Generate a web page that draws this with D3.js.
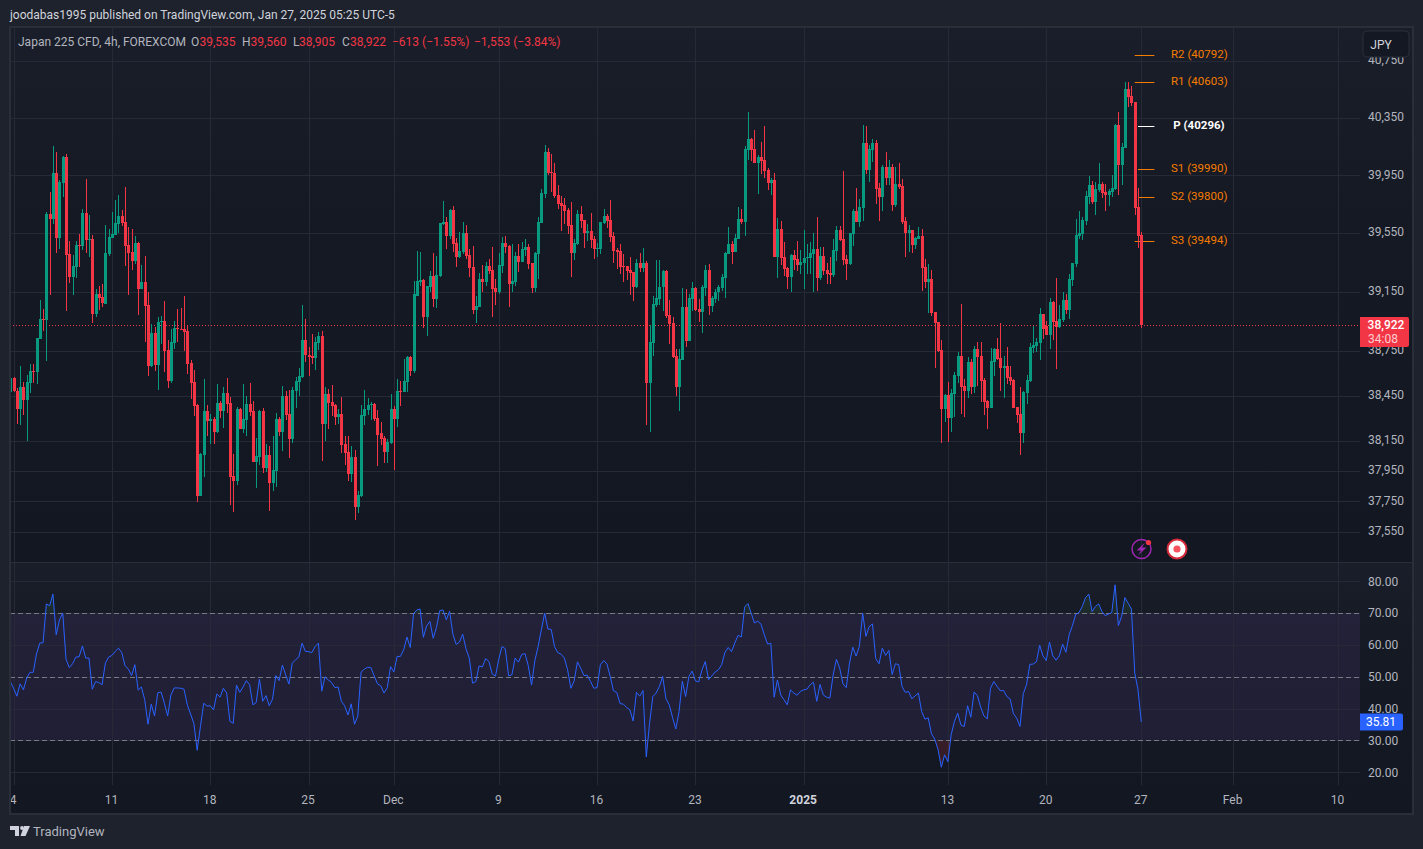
<!DOCTYPE html>
<html>
<head>
<meta charset="utf-8">
<title>Japan 225 CFD</title>
<script src="https://cdn.jsdelivr.net/npm/d3@7"></script>
<style>
	html,body{margin:0;padding:0;background:#1e222d;overflow:hidden;}
	svg{display:block;font-family:Roboto,sans-serif;}
</style>
</head>
<body>
<svg id="chart" width="1423" height="849"></svg>
<script>
// 4h bars
var opens=[38476,38565,38484,38361,38507,38422,38534,38612,38610,38832,
38962,38957,39682,39648,39965,39519,39899,40076,39406,39248,
39317,39468,39464,39689,39505,39510,38998,39132,39112,39065,
39406,39517,39538,39613,39669,39627,39468,39420,39358,39482,
39165,39213,39058,38648,38870,38655,38944,38950,38756,38547,
38803,38903,38897,38897,38883,38668,38541,38386,37788,38057,
38346,38278,38292,38211,38399,38346,38467,38399,37916,37882,
38359,38225,38285,38393,38346,38010,38043,38346,37969,38057,
37869,37949,38292,38205,38446,38326,38164,38480,38541,38574,
38823,38722,38715,38702,38803,38850,38258,38460,38406,38386,
38305,38326,38131,38077,37929,38043,37714,37788,38312,38352,
38386,38393,38299,38198,38171,38077,38137,38359,38292,38480,
38473,38541,38709,38614,39123,39213,39227,38977,39179,39255,
39098,39255,39613,39627,39531,39710,39482,39386,39420,39551,
39400,39317,39024,39045,39234,39213,39324,39296,39172,39145,
39324,39482,39462,39200,39213,39393,39351,39434,39455,39344,
39172,39406,39620,39820,40110,39972,39965,39813,39758,39745,
39710,39607,39413,39475,39682,39641,39551,39565,39510,39441,
39441,39620,39669,39641,39531,39434,39427,39324,39324,39296,
39282,39179,39344,39310,39344,38534,38803,39058,39099,39179,
39289,38991,38937,38716,38507,38689,39045,38816,39099,39172,
39032,39011,39172,39296,39052,39099,39146,39172,39241,39406,
39475,39420,39510,39648,39627,40124,40200,40131,40034,40076,
40055,39986,39896,39917,39386,39579,39386,39310,39248,39399,
39372,39330,39344,39379,39379,39406,39441,39241,39393,39296,
39275,39261,39427,39572,39510,39372,39337,39544,39703,39627,
39724,40172,39986,40124,40172,39862,39800,40007,39931,40007,
39745,39889,39876,39634,39551,39572,39468,39510,39531,39317,
39213,39234,39011,38944,38755,38359,38453,38298,38460,38581,
38715,38513,38480,38675,38507,38762,38715,38554,38413,38366,
38675,38762,38702,38634,38648,38574,38554,38372,38325,38198,
38466,38547,38769,38782,38802,38997,38917,38856,39078,38950,
38910,38957,39091,39024,39227,39338,39531,39544,39634,39800,
39883,39765,39848,39889,39834,39814,39834,39855,40303,40020,
40138,40552,40503,40462,39731,39535];
var highs=[38614,38572,38502,38648,38541,38588,38661,38661,38836,39092,
39031,39696,39834,40152,40110,39917,40083,40096,39496,39400,
39496,39544,39717,39924,39676,39538,39165,39192,39199,39607,
39579,39696,39779,39814,39710,39869,39593,39579,39531,39489,
39330,39393,39151,38930,38910,38977,38984,39085,38823,38897,
38950,39031,39038,39118,38924,38688,38621,38393,38070,38561,
38386,38326,38305,38527,38413,38507,38567,38440,38063,38373,
38366,38527,38446,38534,38413,38171,38352,38366,38131,38117,
38178,38332,38305,38514,38480,38487,38507,38574,38635,39058,
38964,38776,38863,38843,38877,38883,38507,38494,38520,38393,
38359,38440,38178,38178,38117,38090,37815,38386,38487,38433,
38406,38399,38352,38272,38178,38158,38460,38379,38561,38547,
38695,38715,38715,39220,39427,39420,39234,39192,39289,39413,
39393,39620,39772,39662,39717,39738,39517,39558,39627,39607,
39441,39462,39118,39275,39330,39351,39372,39455,39234,39413,
39524,39531,39468,39475,39420,39475,39489,39510,39475,39344,
39420,39662,39855,40158,40138,40096,40034,39883,39807,39793,
39724,39765,39510,39710,39738,39641,39613,39689,39531,39482,
39627,39717,39682,39779,39558,39448,39475,39406,39324,39386,
39282,39372,39413,39448,39358,38924,39119,39365,39365,39296,
39296,39092,38978,38763,38763,39172,39165,39132,39213,39179,
39099,39193,39331,39337,39119,39165,39193,39268,39420,39593,
39496,39544,39731,39717,40152,40393,40207,40262,40090,40179,
40290,40000,39931,39965,39655,39634,39489,39317,39406,39434,
39496,39434,39572,39475,39489,39551,39662,39455,39455,39344,
39386,39510,39600,39600,39979,39399,39551,39717,39862,39786,
40303,40296,40158,40200,40193,39896,40021,40110,40055,40027,
40007,40034,39924,39662,39607,39572,39524,39593,39579,39372,
39338,39296,39011,38944,38823,38460,38540,38493,38608,38742,
39065,38560,38708,38695,38782,38809,38809,38567,38419,38769,
38769,38836,38937,38715,38776,38648,38560,38372,38507,38480,
38587,38802,38917,38836,39038,38997,38950,39105,39085,39241,
39058,39145,39132,39268,39344,39648,39703,39662,39841,39945,
39910,39903,40034,39903,39889,39855,39952,40310,40393,40172,
40600,40600,40572,40462,39862,39560];
var lows=[38413,38476,38261,38252,38319,38151,38469,38534,38527,38830,
38883,38684,39127,39613,39413,39441,39800,39018,39206,39125,
39241,39317,39434,39413,39386,38937,38977,39024,39045,39065,
39393,39517,39538,39551,39600,39324,39125,39296,39337,38991,
39165,38809,38581,38641,38614,38487,38796,38608,38500,38534,
38762,38809,38890,38749,38594,38426,38312,37748,37788,37909,
38184,38131,38131,38198,38299,38231,38332,37727,37680,37855,
38225,38198,38184,38312,38010,37835,37990,37936,37943,37687,
37815,37842,38178,38084,38285,38037,38137,38366,38446,38567,
38675,38581,38661,38621,38756,38016,38151,38225,38312,38252,
38258,38070,37990,37882,37875,37627,37674,37781,38252,38319,
38285,38278,37983,38124,38003,38003,38131,37956,38238,38379,
38473,38473,38581,38601,39118,39192,38903,38850,39151,39045,
39038,39248,39607,39441,39510,39420,39317,39379,39406,39372,
39248,38998,38937,39045,39145,39186,39268,38977,39058,39132,
39275,39413,39045,39151,39192,39282,39351,39393,39303,39139,
39151,39234,39620,39793,39952,39834,39793,39717,39565,39613,
39544,39248,39365,39468,39586,39448,39496,39448,39372,39386,
39406,39613,39586,39489,39344,39303,39268,39213,39227,39126,
39085,39172,39282,39282,38252,38205,38716,39045,39058,39018,
38971,38796,38702,38447,38346,38689,38776,38816,39018,39018,
38944,38870,39119,38991,39011,39072,39085,39158,39105,39406,
39337,39420,39510,39613,39531,40055,40048,40034,39820,39958,
39931,39848,39813,39386,39241,39330,39255,39165,39151,39296,
39289,39268,39165,39268,39268,39151,39158,39227,39261,39199,
39199,39248,39358,39496,39330,39227,39330,39462,39627,39593,
39634,39958,39903,40041,39751,39634,39703,39883,39883,39703,
39731,39855,39613,39386,39420,39413,39441,39510,39158,39172,
39004,38984,38634,38742,38137,38272,38144,38211,38305,38534,
38325,38305,38433,38460,38466,38513,38406,38319,38225,38366,
38581,38688,38480,38433,38527,38520,38366,38265,38057,38137,
38393,38540,38735,38742,38688,38829,38856,38762,38823,38628,
38903,38944,38997,38964,39186,39317,39510,39503,39606,39751,
39751,39676,39834,39793,39703,39738,39800,39848,39814,39883,
40138,40428,40434,39676,39448,38905];
var closes=[38565,38480,38361,38507,38422,38541,38612,38608,38834,38962,
38957,39682,39648,39965,39519,39903,40076,39400,39248,39324,
39468,39464,39689,39505,39510,38998,39132,39110,39071,39413,
39524,39544,39620,39669,39623,39462,39413,39358,39482,39165,
39213,39051,38648,38870,38655,38944,38950,38749,38547,38809,
38903,38897,38892,38877,38661,38534,38379,37788,38063,38346,
38278,38292,38211,38399,38346,38467,38393,37909,37882,38359,
38225,38292,38393,38339,38010,38050,38346,37969,38057,37869,
37956,38292,38205,38446,38319,38164,38487,38547,38581,38823,
38722,38709,38702,38809,38850,38258,38460,38399,38379,38305,
38326,38124,38070,37929,38043,37714,37795,38319,38359,38386,
38393,38292,38191,38164,38077,38144,38359,38292,38480,38473,
38547,38709,38614,39132,39220,39227,38977,39186,39255,39098,
39262,39620,39627,39531,39710,39475,39386,39427,39551,39393,
39310,39024,39051,39234,39213,39324,39289,39165,39145,39330,
39482,39455,39200,39220,39393,39351,39441,39455,39337,39172,
39413,39627,39827,40110,39965,39965,39807,39751,39738,39703,
39600,39413,39482,39682,39634,39551,39565,39503,39441,39448,
39627,39669,39634,39524,39427,39420,39317,39317,39289,39275,
39179,39344,39310,39344,38534,38810,39065,39105,39185,39289,
38984,38931,38709,38507,38696,39045,38816,39105,39172,39025,
39011,39179,39296,39052,39105,39151,39179,39248,39413,39475,
39420,39517,39648,39627,40131,40200,40124,40034,40076,40048,
39979,39896,39917,39386,39579,39379,39303,39248,39399,39365,
39330,39351,39379,39386,39413,39441,39241,39393,39289,39268,
39261,39434,39572,39503,39365,39337,39551,39703,39627,39731,
40172,39986,40131,40172,39855,39800,40007,39931,40007,39745,
39889,39869,39627,39551,39572,39468,39517,39531,39310,39213,
39234,39004,38937,38749,38359,38453,38298,38466,38587,38715,
38507,38480,38675,38507,38762,38708,38547,38406,38366,38681,
38762,38695,38634,38648,38567,38547,38366,38319,38198,38473,
38554,38776,38789,38809,38997,38896,38856,39078,38944,38910,
38964,39091,39024,39234,39344,39538,39551,39641,39807,39883,
39765,39855,39889,39827,39814,39841,39862,40303,40020,40145,
40552,40497,40455,39724,39531,38922];

var rsiValues=[48.5,46.4,43.9,47.8,45.9,49.6,51.4,51.4,57.2,60.6,
60.7,72.9,72.3,76.0,63.2,67.9,70.0,55.5,52.9,54.1,
56.2,56.3,59.7,55.9,55.9,46.1,48.5,48.2,47.5,54.3,
56.2,56.7,58.0,59.0,57.6,53.5,52.4,50.4,53.8,45.8,
46.8,42.8,35.1,41.4,37.7,45.0,45.2,41.7,37.7,44.3,
46.5,46.5,46.4,46.1,41.2,38.3,35.3,26.9,34.4,41.7,
40.8,40.9,39.6,44.6,43.6,46.4,44.9,36.0,35.4,47.4,
45.1,46.8,48.8,47.5,41.2,41.9,49.3,42.3,44.1,40.9,
43.0,50.4,48.8,53.7,50.6,47.7,54.3,55.3,56.2,60.6,
58.0,57.9,57.6,59.5,60.6,45.5,50.0,49.0,48.2,46.6,
46.8,42.3,40.9,38.0,41.5,35.1,37.7,51.5,52.4,53.0,
52.9,50.3,47.8,47.2,44.9,46.6,53.2,51.5,56.4,56.4,
58.5,62.5,59.2,69.8,71.0,71.3,62.4,66.0,67.4,62.1,
65.5,70.8,71.0,67.9,70.6,63.4,60.2,60.9,63.4,58.8,
55.9,48.0,48.5,53.4,53.1,55.7,54.8,50.9,50.2,55.5,
59.5,58.8,50.3,50.6,55.9,54.6,57.0,57.3,53.5,47.4,
55.0,59.5,64.8,70.0,65.0,64.9,59.5,57.6,57.1,55.9,
52.2,46.4,48.7,54.7,52.7,50.4,50.5,48.5,46.4,46.6,
53.8,55.1,54.0,50.1,45.6,45.1,41.6,41.4,40.4,39.6,
36.1,45.1,43.9,45.7,24.8,35.4,43.8,44.9,47.0,50.1,
43.1,41.2,37.3,33.6,39.1,48.6,43.8,50.1,51.8,48.7,
48.4,52.2,54.8,49.1,50.3,51.5,52.2,53.8,57.7,59.2,
57.9,60.6,63.0,62.5,71.9,73.0,70.0,66.9,67.5,66.5,
63.2,60.3,60.5,43.6,49.0,44.3,42.8,41.2,45.9,
44.9,44.2,45.4,45.9,46.1,47.5,48.3,42.3,47.6,44.3,
43.6,43.3,50.6,55.5,52.7,47.8,46.6,54.3,59.3,56.5,
59.5,70.0,62.7,65.8,66.6,55.7,54.1,59.0,56.7,58.3,
50.7,54.1,53.8,47.0,45.1,45.4,43.1,44.0,44.9,39.1,
36.7,37.1,32.1,30.4,27.1,21.6,25.5,23.3,31.8,36.0,
38.6,34.8,34.4,40.9,37.3,45.2,44.1,40.5,37.7,36.8,
46.4,48.5,47.0,45.6,45.7,43.8,43.0,38.4,37.0,34.4,
44.7,47.5,53.9,54.0,54.7,59.9,56.6,55.1,60.9,56.6,
55.2,56.6,60.3,57.7,63.2,66.1,69.6,70.2,72.1,74.9,
76.0,70.5,72.1,72.9,70.5,69.2,69.7,70.2,78.9,66.1,
69.0,74.9,73.1,71.3,51.2,45.9,35.81];

var priceTicks=[40750,40350,39950,39550,39150,38750,38450,38150,37950,37750,37550];
var rsiTicks=[80,70,60,50,40,30,20];
var rsiLevels=[70,50,30];
var timeTickBars=[1,31,61,91,117,149,179,209,242,286,316,345,373,405];
var timeLabels=["4","11","18","25","Dec","9","16","23","2025","13","20","27","Feb","10"];
var pivotNames=["R2","R1","P","S1","S2","S3"];
var pivotValues=[40792,40603,40296,39990,39800,39494];
var lastPrice=38922;

var upColor="#089981",downColor="#f23645",gridColor="#262a36",textColor="#b2b5be";
var plotLeft=10,plotRight=1360,frameRight=1412,frameTop=27,paneSplit=562,plotBottom=785,frameBottom=813;

var svg=d3.select("#chart");
var defs=svg.append("defs");

function paneGradient(id,top,bottom){
	var g=defs.append("linearGradient")
	.attr("id",id)
	.attr("gradientUnits","userSpaceOnUse")
	.attr("x1",0).attr("x2",0)
	.attr("y1",top).attr("y2",bottom);
	g.append("stop").attr("offset","0").attr("stop-color","#1a1e2a");
	g.append("stop").attr("offset","0.35").attr("stop-color","#151923");
	g.append("stop").attr("offset","1").attr("stop-color","#131722");
}
paneGradient("paneTop",frameTop,paneSplit);
paneGradient("paneBottom",paneSplit,frameBottom);

defs.append("clipPath").attr("id","clipPrice").append("rect")
.attr("x",plotLeft).attr("y",frameTop).attr("width",plotRight-plotLeft).attr("height",paneSplit-frameTop);
defs.append("clipPath").attr("id","clipRsi").append("rect")
.attr("x",plotLeft).attr("y",paneSplit).attr("width",plotRight-plotLeft).attr("height",frameBottom-paneSplit);

svg.append("rect").attr("x",plotLeft).attr("y",frameTop).attr("width",frameRight-plotLeft).attr("height",paneSplit-frameTop).attr("fill","url(#paneTop)");
svg.append("rect").attr("x",plotLeft).attr("y",paneSplit).attr("width",frameRight-plotLeft).attr("height",frameBottom-paneSplit).attr("fill","url(#paneBottom)");

// scales
var x=d3.scaleLinear().domain([0,345]).range([10.3,1141.3]);
var y=d3.scaleLog().domain([37550,40750]).range([532,61]);
var yRsi=d3.scaleLinear().domain([20,80]).range([772.3,581.3]);

// rsi band goes under the grid
svg.append("rect")
.attr("x",plotLeft).attr("y",yRsi(70))
.attr("width",plotRight-plotLeft).attr("height",yRsi(30)-yRsi(70))
.attr("fill","#7e57c2").attr("fill-opacity",0.13);

// grid
var grid=svg.append("g").attr("stroke",gridColor).attr("stroke-width",1).attr("shape-rendering","crispEdges");
grid.selectAll(".gx").data(timeTickBars).enter().append("line")
.attr("x1",d=>Math.round(x(d))+0.5).attr("x2",d=>Math.round(x(d))+0.5)
.attr("y1",frameTop).attr("y2",plotBottom);
grid.selectAll(".gy").data(priceTicks).enter().append("line")
.attr("x1",plotLeft).attr("x2",plotRight)
.attr("y1",d=>Math.round(y(d))+0.5).attr("y2",d=>Math.round(y(d))+0.5);
grid.selectAll(".gr").data(rsiTicks).enter().append("line")
.attr("x1",plotLeft).attr("x2",plotRight)
.attr("y1",d=>Math.round(yRsi(d))+0.5).attr("y2",d=>Math.round(yRsi(d))+0.5);

// pivots
var pivots=svg.append("g");
pivots.selectAll("line").data(pivotValues).enter().append("line")
.attr("x1",(d,i)=>x(pivotNames[i]=="P"||pivotNames[i]=="S1"||pivotNames[i]=="S2"?344:343))
.attr("x2",x(349))
.attr("y1",d=>Math.round(y(d))+0.5).attr("y2",d=>Math.round(y(d))+0.5)
.attr("stroke",(d,i)=>pivotNames[i]=="P"?"#ffffff":"#f57c00")
.attr("stroke-width",1);
pivots.selectAll("text").data(pivotValues).enter().append("text")
.attr("x",(d,i)=>pivotNames[i]=="P"?1199:1171)
.attr("text-anchor",(d,i)=>pivotNames[i]=="P"?"middle":"start")
.attr("y",d=>y(d)+3)
.attr("font-size",11.5)
.attr("font-weight",(d,i)=>pivotNames[i]=="P"?700:400)
.attr("fill",(d,i)=>pivotNames[i]=="P"?"#ffffff":"#f57c00")
.text((d,i)=>pivotNames[i]+" ("+d+")");

// last price line
svg.append("line")
.attr("x1",plotLeft).attr("x2",plotRight)
.attr("y1",Math.round(y(lastPrice))+0.5).attr("y2",Math.round(y(lastPrice))+0.5)
.attr("stroke",downColor).attr("stroke-width",1).attr("stroke-dasharray","1,2");

// candles
var bars=d3.range(opens.length);
var candle=svg.append("g").attr("clip-path","url(#clipPrice)").attr("shape-rendering","crispEdges");
candle.selectAll(".wick").data(bars).enter().append("rect")
.attr("x",i=>Math.round(x(i)))
.attr("width",1)
.attr("y",i=>y(highs[i]))
.attr("height",i=>y(lows[i])-y(highs[i]))
.attr("fill",i=>closes[i]>=opens[i]?upColor:downColor);
candle.selectAll(".body").data(bars).enter().append("rect")
.attr("x",i=>Math.round(x(i))-1)
.attr("width",3)
.attr("y",i=>y(Math.max(opens[i],closes[i])))
.attr("height",i=>Math.max(1,Math.abs(y(opens[i])-y(closes[i]))))
.attr("fill",i=>closes[i]>=opens[i]?upColor:downColor);

// rsi
var rsiPane=svg.append("g").attr("clip-path","url(#clipRsi)");
defs.append("clipPath").attr("id","clipOver").append("rect")
.attr("x",plotLeft).attr("y",paneSplit).attr("width",plotRight-plotLeft).attr("height",yRsi(70)-paneSplit);
defs.append("clipPath").attr("id","clipUnder").append("rect")
.attr("x",plotLeft).attr("y",yRsi(30)).attr("width",plotRight-plotLeft).attr("height",frameBottom-yRsi(30));
rsiPane.append("path")
.attr("clip-path","url(#clipOver)")
.attr("d",d3.area().x((d,i)=>x(i)).y0(yRsi(70)).y1(d=>yRsi(d))(rsiValues))
.attr("fill","#4caf50").attr("fill-opacity",0.12);
rsiPane.append("path")
.attr("clip-path","url(#clipUnder)")
.attr("d",d3.area().x((d,i)=>x(i)).y0(yRsi(30)).y1(d=>yRsi(d))(rsiValues))
.attr("fill","#f23645").attr("fill-opacity",0.16);
rsiPane.selectAll(".level").data(rsiLevels).enter().append("line")
.attr("x1",plotLeft).attr("x2",plotRight)
.attr("y1",d=>Math.round(yRsi(d))+0.5).attr("y2",d=>Math.round(yRsi(d))+0.5)
.attr("stroke","#787b86").attr("stroke-width",1).attr("stroke-dasharray","5,3");
rsiPane.append("path")
.attr("d",d3.line().x((d,i)=>x(i)).y(d=>yRsi(d))(rsiValues))
.attr("fill","none").attr("stroke","#2962ff").attr("stroke-width",1);

// axes
function styleAxis(g){
	g.select(".domain").remove();
	g.selectAll("text").attr("fill",textColor).attr("font-size",12).attr("font-family","Roboto,sans-serif");
}
svg.append("g").attr("transform","translate(1368,-1)")
.call(d3.axisRight(y).tickValues(priceTicks).tickFormat(d3.format(",")).tickSize(0).tickPadding(0))
.call(styleAxis);
svg.append("g").attr("transform","translate(1368,0)")
.call(d3.axisRight(yRsi).tickValues(rsiTicks).tickFormat(d3.format(".2f")).tickSize(0).tickPadding(0))
.call(styleAxis);
var timeAxis=svg.append("g").attr("transform","translate(-1,791)")
.call(d3.axisBottom(x).tickValues(timeTickBars).tickFormat((d,i)=>timeLabels[i]).tickSize(0).tickPadding(4))
.call(styleAxis);
timeAxis.selectAll("text").filter(d=>timeLabels[timeTickBars.indexOf(d)]=="2025")
.attr("font-weight",700).attr("fill","#d1d4dc");

// frame
var frame=svg.append("g").attr("stroke","#2a2e39").attr("fill","none").attr("shape-rendering","crispEdges");
frame.append("rect").attr("x",plotLeft-0.5).attr("y",frameTop-0.5).attr("width",frameRight-plotLeft+1).attr("height",frameBottom-frameTop+1).attr("stroke-width",2);
frame.append("line").attr("x1",plotLeft).attr("x2",frameRight).attr("y1",paneSplit+0.5).attr("y2",paneSplit+0.5);

// price tags
svg.append("path")
.attr("d","M1360 317H1407a2 2 0 0 1 2 2V345a2 2 0 0 1 -2 2H1360Z")
.attr("fill",downColor);
svg.append("text").attr("x",1386).attr("y",329).attr("text-anchor","middle")
.attr("fill","#ffffff").attr("font-size",12).attr("font-weight",500).text(d3.format(",")(lastPrice));
svg.append("text").attr("x",1383).attr("y",343).attr("text-anchor","middle")
.attr("fill","#ffffff").attr("fill-opacity",0.75).attr("font-size",12).text("34:08");

var rsiLast=rsiValues[rsiValues.length-1];
svg.append("path")
.attr("d","M1360 "+(yRsi(rsiLast)-8.5)+"H1401a2 2 0 0 1 2 2V"+(yRsi(rsiLast)+6.5)+"a2 2 0 0 1 -2 2H1360Z")
.attr("fill","#2962ff");
svg.append("text").attr("x",1381).attr("y",yRsi(rsiLast)+4).attr("text-anchor","middle")
.attr("fill","#ffffff").attr("font-size",12).text(d3.format(".2f")(rsiLast));

// currency button
svg.append("rect").attr("x",1363).attr("y",31).attr("width",46).attr("height",26).attr("rx",4)
.attr("fill","#141823").attr("stroke","#2a2e39").attr("stroke-width",1);
svg.append("text").attr("x",1381).attr("y",49).attr("text-anchor","middle")
.attr("fill","#d1d4dc").attr("font-size",12).text("JPY");

// header and legend
svg.append("text").attr("x",10).attr("y",19).attr("fill","#d1d4dc").attr("font-size",12)
.text("joodabas1995 published on TradingView.com, Jan 27, 2025 05:25 UTC-5");
svg.append("text").attr("x",18).attr("y",46).attr("fill","#b2b5be").attr("font-size",12)
.text("Japan 225 CFD, 4h, FOREXCOM");

var legendNames=["O","H","L","C"];
var legendValues=["39,535","39,560","38,905","38,922"];
var legendX=[191,242,293,342];
var legendGap=[8.5,8.5,6,8];
var legendChange=["−613 (−1.55%)","−1,553 (−3.84%)"];
var legendChangeX=[392,474];
var legend=svg.append("g").attr("font-size",12);
legend.selectAll(".n").data(legendNames).enter().append("text")
.attr("x",(d,i)=>legendX[i]).attr("y",46).attr("fill","#b2b5be").text(d=>d);
legend.selectAll(".v").data(legendValues).enter().append("text")
.attr("x",(d,i)=>legendX[i]+legendGap[i]).attr("y",46).attr("fill",downColor).text(d=>d);
legend.selectAll(".c").data(legendChange).enter().append("text")
.attr("x",(d,i)=>legendChangeX[i]).attr("y",46).attr("fill",downColor).text(d=>d);

// badge icons
var bolt=svg.append("g").attr("transform","translate(1141.5,549)");
bolt.append("circle").attr("r",9.5).attr("fill","none").attr("stroke","#9c27b0").attr("stroke-width",1.5);
bolt.append("path").attr("d","M3.5 -6.5L-5 1.5H-0.5L-3.5 6.5L5 -1.5H0.5Z").attr("fill","#9c27b0");
bolt.append("circle").attr("cx",7).attr("cy",-6.5).attr("r",2.6).attr("fill",downColor);
var rec=svg.append("g").attr("transform","translate(1177,549)");
rec.append("circle").attr("r",9.5).attr("fill","#ffffff").attr("stroke","#d42a3a").attr("stroke-width",2);
rec.append("circle").attr("r",3.6).attr("fill","#f7525f");

// logo
var logo=svg.append("g").attr("fill","#d1d4dc");
logo.append("path").attr("d","M10 826H19V836H15V830H10ZM24 826H30L25.5 836H20.5Z");
logo.append("circle").attr("cx",22).attr("cy",828).attr("r",1.9);
svg.append("text").attr("x",33).attr("y",836).attr("fill","#b2b5be").attr("font-size",13).text("TradingView");
</script>
</body>
</html>
